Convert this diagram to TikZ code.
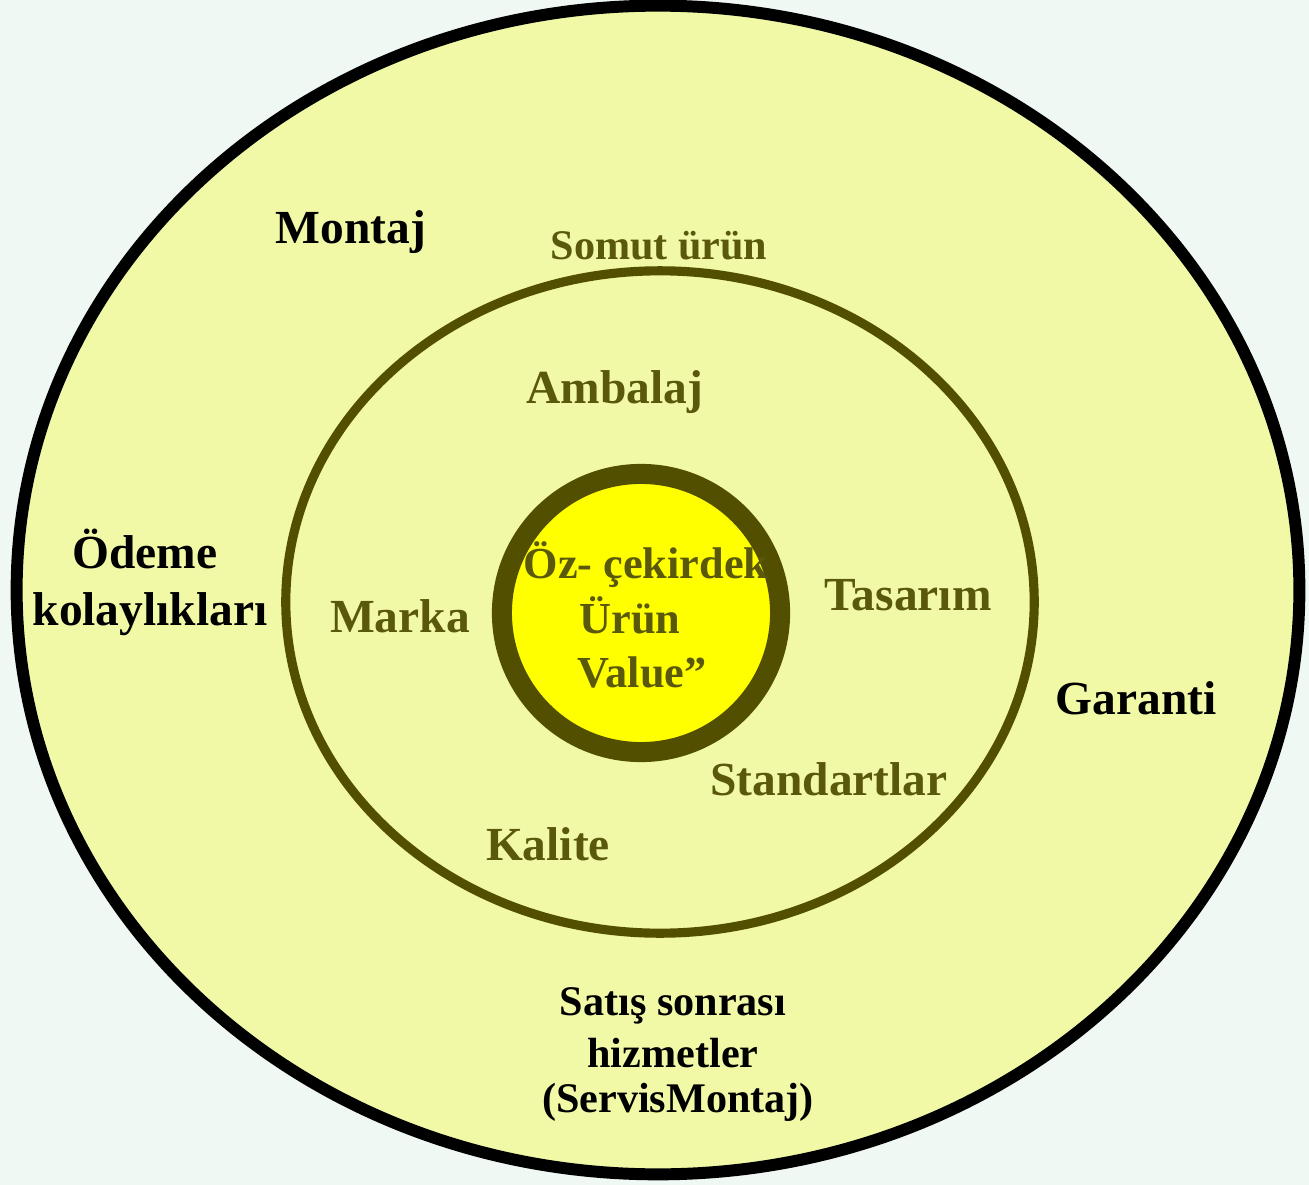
\documentclass[tikz,border=0pt]{standalone}
\usepackage{fontspec}
\setmainfont{Liberation Serif}
\definecolor{mintbg}{RGB}{239,248,243}
\definecolor{paleyellow}{RGB}{242,249,166}
\definecolor{olivering}{RGB}{82,79,0}
\definecolor{olivetext}{RGB}{90,88,10}
\definecolor{coreyellow}{RGB}{255,255,0}
\begin{document}
\begin{tikzpicture}[x=0.01cm, y=-0.01cm, line join=round, line cap=round,
		lbl/.style={anchor=base, inner sep=0pt, font=\fontsize{13.5}{16}\selectfont\bfseries},
		small/.style={anchor=base, inner sep=0pt, font=\fontsize{12}{14}\selectfont\bfseries}]
	\fill[mintbg] (0,0) rectangle (1309,1185);
	\useasboundingbox (0,0) rectangle (1309,1185);
	\coordinate (O) at (658,590);
	\coordinate (I) at (660,602);
	\coordinate (C) at (641,613);
	% rings
	\draw[line width=3.4pt, fill=paleyellow] (O) ellipse [x radius=6.41cm, y radius=5.84cm];
	\draw[line width=2.6pt, olivering] (I) ellipse [x radius=3.74cm, y radius=3.31cm];
	\draw[line width=5.7pt, olivering, fill=coreyellow] (C) circle [radius=1.39cm];
	% outer layer
	\foreach \x/\y/\txt in {351/243/Montaj, 1136/714/Garanti, 145/568/Ödeme, 150/625/kolaylıkları}
	\node[lbl] at (\x,\y) {\txt};
	\foreach \x/\y/\txt in {673/1015/Satış sonrası, 673/1067/hizmetler, 678/1112/(ServisMontaj)}
	\node[small] at (\x,\y) {\txt};
	% tangible layer
	\node[small, olivetext] at (659,259) {Somut ürün};
	\foreach \x/\y/\txt in {615/403/Ambalaj, 400/632/Marka, 908/610/Tasarım, 829/795/Standartlar, 548/860/Kalite}
	\node[lbl, olivetext] at (\x,\y) {\txt};
	% core
	\foreach \x/\y/\txt in {646/578/Öz- çekirdek, 630/633/Ürün, 642/687/Value”}
	\node[anchor=base, inner sep=0pt, olivetext, font=\fontsize{12.6}{15}\selectfont\bfseries] at (\x,\y) {\txt};
\end{tikzpicture}
\end{document}
